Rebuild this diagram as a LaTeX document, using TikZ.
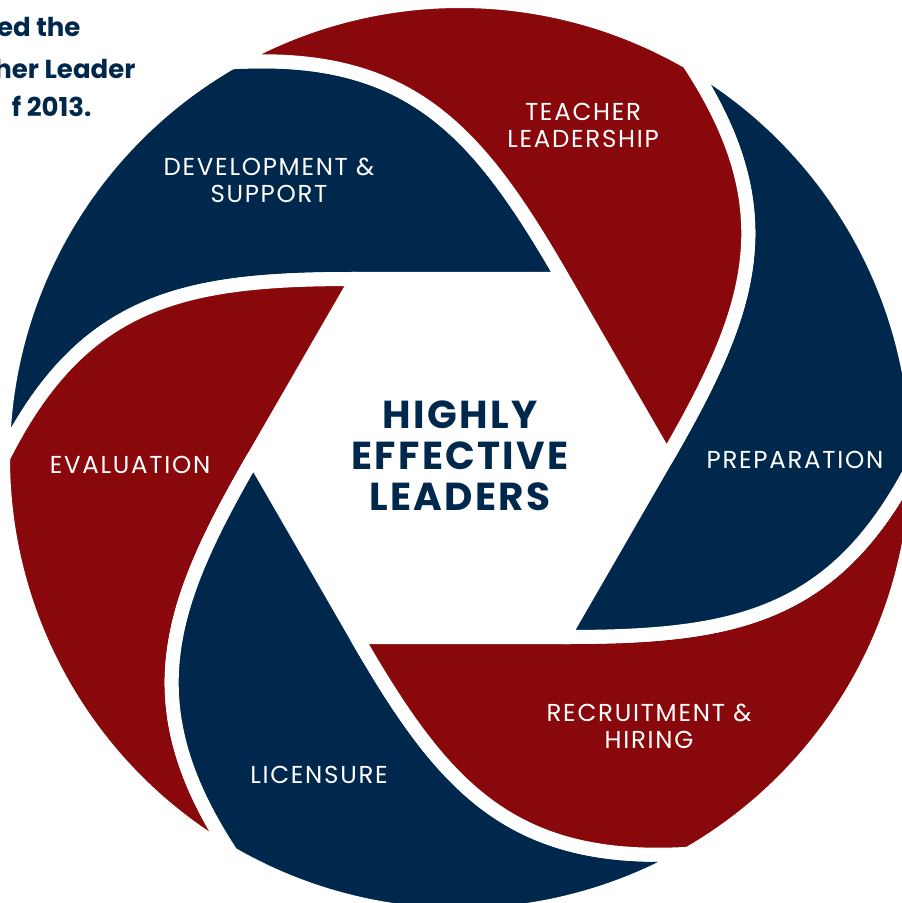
\documentclass[tikz,border=0pt]{standalone}
\usepackage{fontspec}
\setmainfont{Poppins}
\usepackage{tikz}
\definecolor{navy}{RGB}{0,40,76}
\definecolor{crimson}{RGB}{137,8,12}

\begin{document}
\begin{tikzpicture}[x=1pt,y=1pt,
	blade/.style={draw=white,line width=14pt,line join=round},
	navyblade/.style={blade,fill=navy},
	redblade/.style={blade,fill=crimson},
	stage/.style={text=white,align=center,font=\fontsize{24.5}{27}\selectfont\addfontfeatures{LetterSpace=7}},
	core/.style={text=navy,align=center,font=\bfseries\fontsize{39}{41}\selectfont\addfontfeatures{LetterSpace=6}},
	note/.style={text=navy,anchor=base east,font=\bfseries\fontsize{26}{40}\selectfont}]
	\useasboundingbox (-460,-445) rectangle (442,458);
	% the six blades, one per 60 degrees
	\draw[navyblade,rotate=0] (60:206.7) -- (120:206.7) .. controls (146.8:326.9) and (156.86:409.4) .. (180:457) arc[start angle=180,end angle=120,radius=457] .. controls (96.86:409.4) and (86.8:326.9) .. (60:206.7) -- cycle;
	\draw[redblade,rotate=60] (60:206.7) -- (120:206.7) .. controls (146.8:326.9) and (156.86:409.4) .. (180:457) arc[start angle=180,end angle=120,radius=457] .. controls (96.86:409.4) and (86.8:326.9) .. (60:206.7) -- cycle;
	\draw[navyblade,rotate=120] (60:206.7) -- (120:206.7) .. controls (146.8:326.9) and (156.86:409.4) .. (180:457) arc[start angle=180,end angle=120,radius=457] .. controls (96.86:409.4) and (86.8:326.9) .. (60:206.7) -- cycle;
	\draw[redblade,rotate=180] (60:206.7) -- (120:206.7) .. controls (146.8:326.9) and (156.86:409.4) .. (180:457) arc[start angle=180,end angle=120,radius=457] .. controls (96.86:409.4) and (86.8:326.9) .. (60:206.7) -- cycle;
	\draw[navyblade,rotate=240] (60:206.7) -- (120:206.7) .. controls (146.8:326.9) and (156.86:409.4) .. (180:457) arc[start angle=180,end angle=120,radius=457] .. controls (96.86:409.4) and (86.8:326.9) .. (60:206.7) -- cycle;
	\draw[redblade,rotate=300] (60:206.7) -- (120:206.7) .. controls (146.8:326.9) and (156.86:409.4) .. (180:457) arc[start angle=180,end angle=120,radius=457] .. controls (96.86:409.4) and (86.8:326.9) .. (60:206.7) -- cycle;
	\node[core] (core) at (0,2) {HIGHLY\\EFFECTIVE\\LEADERS};
	\node[stage] (teach) at (123,333) {TEACHER\\LEADERSHIP};
	\node[stage] (dev) at (-191,278) {DEVELOPMENT \&\\SUPPORT};
	\node[stage] (prep) at (335,-2) {PREPARATION};
	\node[stage] (eval) at (-330,-6.5) {EVALUATION};
	\node[stage] (lic) at (-141,-316.5) {LICENSURE};
	\node[stage] (recr) at (189,-268.5) {RECRUITMENT \&\\HIRING};
	\node[note] (n1) at (-376,421) {ed the};
	\node[note] (n2) at (-321,379) {her Leader};
	\node[note] (n3) at (-365,341) {f 2013.};
\end{tikzpicture}
\end{document}
